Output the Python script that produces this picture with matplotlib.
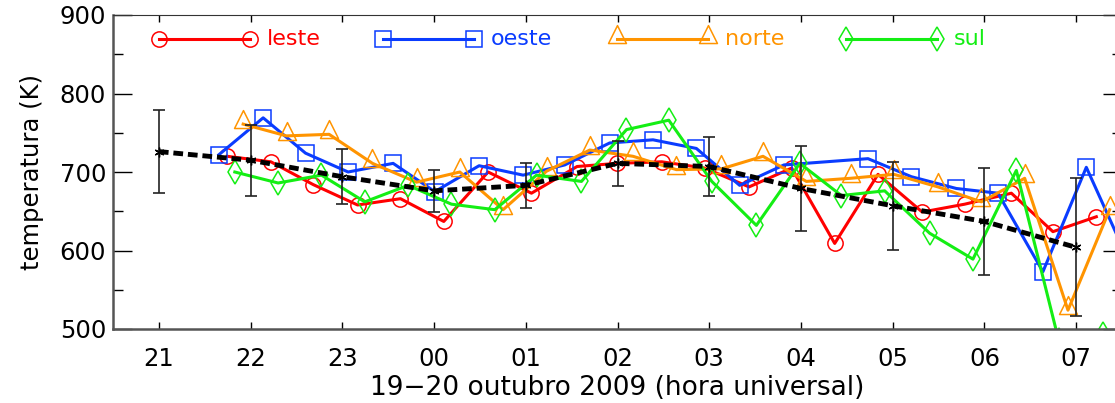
import matplotlib
matplotlib.use("Agg")
import matplotlib.pyplot as plt
from matplotlib.path import Path

# hours after 21 UT on 19 Oct 2009
hours = [0, 1, 2, 3, 4, 5, 6, 7, 8, 9, 10]
hour_labels = ['21', '22', '23', '00', '01', '02', '03', '04', '05', '06', '07']

t_leste = [0.744, 1.221, 1.682, 2.166, 2.634, 3.106, 3.589, 4.062, 4.559, 4.992,
           5.482, 5.951, 6.434, 6.899, 7.368, 7.840, 8.322, 8.785, 9.294, 9.747,
           10.220]
temp_leste = [720, 713, 684, 658, 666, 637, 700, 673, 707, 711,
              713, 705, 681, 705, 609, 697, 649, 659, 673, 624,
              643]

t_oeste = [0.654, 1.137, 1.599, 2.063, 2.554, 3.008, 3.491, 3.971, 4.425, 4.915,
           5.387, 5.860, 6.332, 6.815, 7.731, 8.204, 8.694, 9.148, 9.638, 10.111,
           10.583]
temp_oeste = [722, 769, 724, 700, 711, 675, 708, 696, 709, 737,
              741, 730, 683, 709, 717, 694, 679, 673, 573, 706,
              584]

t_norte = [0.919, 1.392, 1.856, 2.329, 2.809, 3.281, 3.753, 4.226, 4.698, 5.169,
           5.642, 6.133, 6.586, 7.059, 7.542, 8.014, 8.494, 8.966, 9.439, 9.911,
           10.365]
temp_norte = [761, 746, 748, 711, 687, 700, 652, 701, 728, 720,
              703, 704, 720, 688, 692, 697, 681, 662, 692, 524,
              652]

t_sul = [0.828, 1.300, 1.773, 2.245, 2.717, 3.190, 3.662, 4.117, 4.607, 5.098,
         5.559, 6.028, 6.514, 6.987, 7.441, 7.913, 8.403, 8.875, 9.348, 9.809,
         10.289]
temp_sul = [700, 686, 696, 662, 683, 659, 652, 696, 688, 754,
            766, 688, 632, 711, 670, 676, 622, 589, 702, 486,
            493]

temp_media = [726, 715, 694, 676, 683, 711, 707, 679, 657, 637, 604]
temp_erro = [53, 45, 35, 27, 29, 29, 38, 54, 56, 68, 88]

# triangle whose data point sits low inside it
tri = Path([(-1, -0.45), (0, 1.55), (1, -0.45), (-1, -0.45)],
           [Path.MOVETO, Path.LINETO, Path.LINETO, Path.CLOSEPOLY])

series = [
    ('leste', t_leste, temp_leste, '#ff0000', 'o', 11),
    ('oeste', t_oeste, temp_oeste, '#0a3cff', 's', 11),
    ('norte', t_norte, temp_norte, '#ff9400', tri, 20),
    ('sul', t_sul, temp_sul, '#14ee14', 'd', 12),
]

plt.rcParams['font.family'] = ['DejaVu Sans']

fig = plt.figure(figsize=(11.15, 4.03), dpi=100)
ax = fig.add_axes([113 / 1115, 1 - 329 / 403, 1009 / 1115, 314 / 403])

for name, t, v, c, m, ms in series:
    ax.plot(t, v, color=c, lw=2.2, marker=m, ms=ms, mfc='none',
            mec=c, mew=1.1)

ax.errorbar(hours, temp_media, yerr=temp_erro, color='black', lw=3.5,
            dashes=(2, 1), marker=(6, 2, 0), ms=7, ecolor='#222222',
            elinewidth=1.2, capsize=4.5, capthick=1.2)

# legend row inside the top of the frame
leg_x = [0.0453, 0.2673, 0.4995, 0.7265]
for (name, t, v, c, m, ms), x0 in zip(series, leg_x):
    ax.plot([x0, x0 + 0.0905], [0.925, 0.925], transform=ax.transAxes,
            color=c, lw=2.2, marker=m, ms=ms, mfc='none', mec=c, mew=1.1,
            clip_on=False)
    ax.text(x0 + 0.107, 0.925, name, transform=ax.transAxes, color=c,
            fontsize=16, va='center', ha='left')

ax.set_xlim(-0.5, 10.5)
ax.set_ylim(500, 900)
ax.set_xticks(hours)
ax.set_xticklabels(hour_labels)
ax.set_yticks([500, 600, 700, 800, 900])
ax.set_yticks([550, 650, 750, 850], minor=True)
ax.tick_params(axis='x', direction='in', length=5, width=1, top=True,
               labelsize=17.5, pad=13)
ax.tick_params(axis='y', which='major', direction='in', length=14, width=1,
               right=True, labelsize=17.5, pad=5)
ax.tick_params(axis='y', which='minor', direction='in', length=7, width=1,
               right=True)
for side in ['left', 'bottom']:
    ax.spines[side].set_color('#555555')
    ax.spines[side].set_linewidth(1.8)
ax.spines['top'].set_color('#333333')

ax.set_xlabel('19\u221220 outubro 2009 (hora universal)', fontsize=19,
              labelpad=3)
ax.set_ylabel('temperatura (K)', fontsize=17.5, labelpad=11)

fig.savefig('out.png', dpi=100)
